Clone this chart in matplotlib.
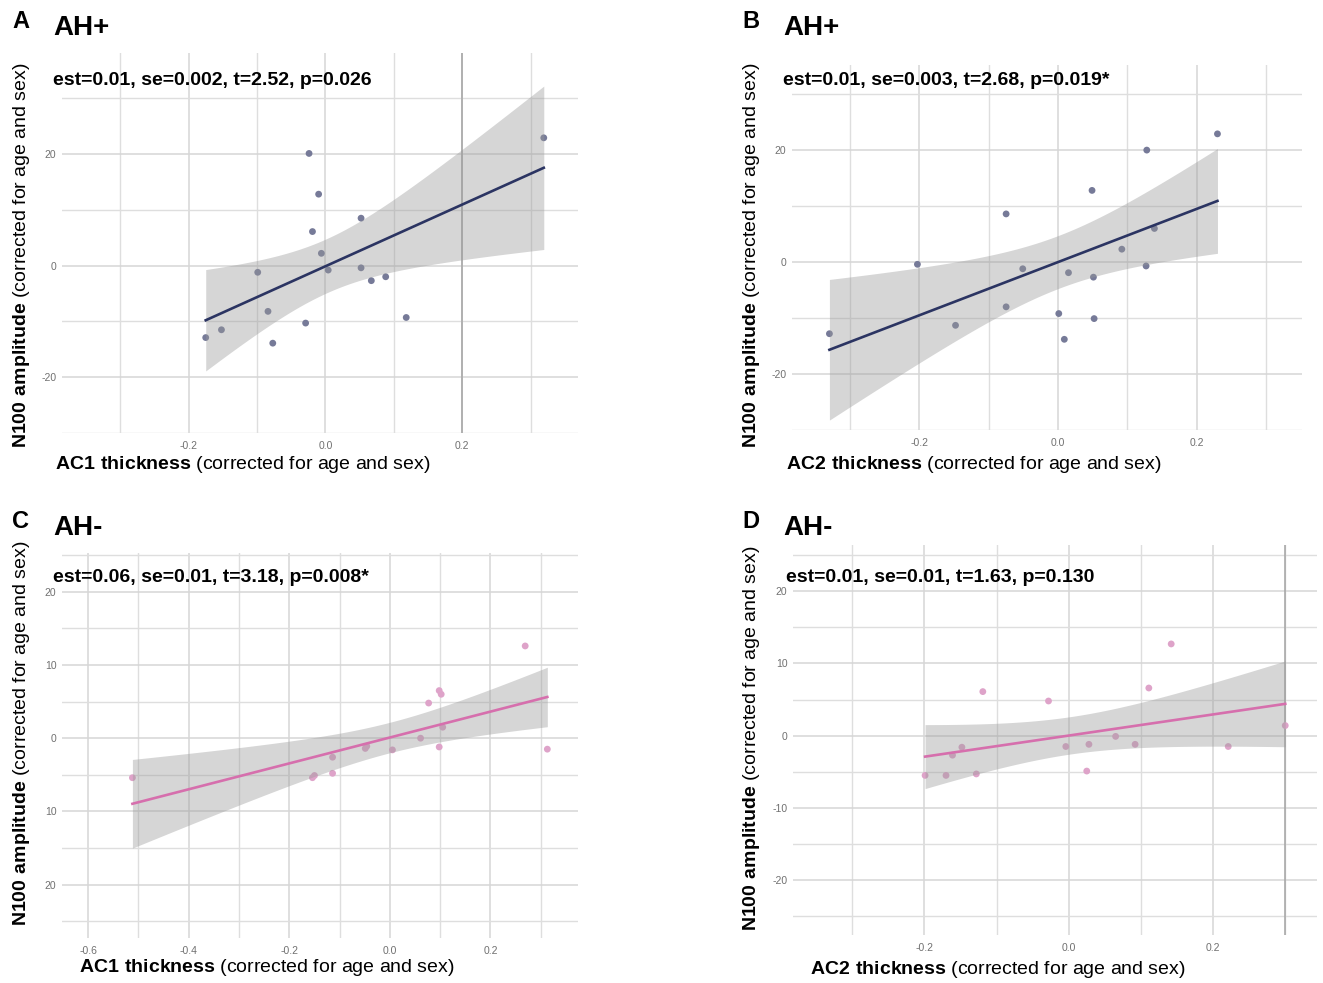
import numpy as np
import matplotlib
matplotlib.use("Agg")
import matplotlib.pyplot as plt

plt.rcParams['font.family'] = ['Liberation Sans', 'DejaVu Sans']
plt.rcParams['mathtext.fontset'] = 'custom'
plt.rcParams['mathtext.rm'] = 'Liberation Sans'
plt.rcParams['mathtext.bf'] = 'Liberation Sans:bold'

W, H = 1323, 983

# panel A: AH+, AC1
a_x = [-0.175, -0.152, -0.099, -0.084, -0.077, -0.029, -0.024, -0.010, -0.019, -0.006,
       0.004, 0.052, 0.052, 0.067, 0.088, 0.118, 0.319]
a_y = [-12.9, -11.5, -1.2, -8.2, -13.9, -10.3, 20.1, 12.8, 6.1, 2.2,
       -0.8, 8.5, -0.4, -2.7, -2.0, -9.3, 22.9]
# panel B: AH+, AC2
b_x = [-0.330, -0.203, -0.148, -0.075, -0.075, -0.051, 0.001, 0.009, 0.015, 0.049,
       0.051, 0.052, 0.092, 0.128, 0.127, 0.139, 0.230]
b_y = [-12.8, -0.4, -11.3, 8.6, -8.0, -1.2, -9.2, -13.8, -1.9, 12.8,
       -2.7, -10.1, 2.3, 20.0, -0.7, 6.0, 22.9]
# panel C: AH-, AC1
c_x = [-0.512, -0.154, -0.150, -0.114, -0.114, -0.049, -0.046, 0.005, 0.061, 0.077,
       0.098, 0.102, 0.098, 0.105, 0.269, 0.313]
c_y = [-5.4, -5.4, -5.1, -2.6, -4.8, -1.4, -1.1, -1.6, 0.0, 4.8,
       6.5, 6.0, -1.2, 1.5, 12.6, -1.5]
# panel D: AH-, AC2
d_x = [-0.199, -0.170, -0.161, -0.148, -0.128, -0.119, -0.028, -0.004, 0.025, 0.028,
       0.065, 0.092, 0.111, 0.142, 0.221, 0.300]
d_y = [-5.5, -5.5, -2.7, -1.6, -5.3, 6.1, 4.8, -1.5, -4.9, -1.2,
       -0.1, -1.2, 6.6, 12.7, -1.5, 1.4]

stats = ["est=0.01, se=0.002, t=2.52, p=0.026",
         "est=0.01, se=0.003, t=2.68, p=0.019*",
         "est=0.06, se=0.01, t=3.18, p=0.008*",
         "est=0.01, se=0.01, t=1.63, p=0.130"]
letters = ["A", "B", "C", "D"]
groups = ["AH+", "AH+", "AH-", "AH-"]
x_names = ["AC1", "AC2", "AC1", "AC2"]

# t quantiles (0.975) by degrees of freedom
t_crit = {14: 2.145, 15: 2.131}

navy = "#2b3462"
slate = "#767a98"
pink = "#d66fad"
pink_pt = "#dea3c9"

# pixel layout of each panel
panels = [
    dict(x=a_x, y=a_y, box=(62, 53, 578, 433), xlim=(-0.385, 0.369), ylim=(-28.0, 38.1),
         xmaj=[-0.2, 0.0, 0.2], xmin=[-0.3, -0.1, 0.1, 0.3],
         ymaj=[-20, 0, 20], ymin=[-30, -10, 10, 30], ylab=None,
         pt=slate, ln=navy, dark=0.2, stat_y=80, ylab_y=255, xlab_x=55, xlab_y=465),
    dict(x=b_x, y=b_y, box=(792, 65, 1302, 430), xlim=(-0.384, 0.352), ylim=(-27.7, 35.2),
         xmaj=[-0.2, 0.0, 0.2], xmin=[-0.3, -0.1, 0.1, 0.3],
         ymaj=[-20, 0, 20], ymin=[-30, -10, 10, 30], ylab=None,
         pt=slate, ln=navy, dark=None, stat_y=80, ylab_y=255, xlab_x=786, xlab_y=465),
    dict(x=c_x, y=c_y, box=(62, 553, 578, 938), xlim=(-0.652, 0.374), ylim=(-27.3, 25.3),
         xmaj=[-0.6, -0.4, -0.2, 0.0, 0.2], xmin=[-0.5, -0.3, -0.1, 0.1, 0.3],
         ymaj=[-20, -10, 0, 10, 20], ymin=[-25, -15, -5, 5, 15, 25],
         ylab=["20", "10", "0", "10", "20"],
         pt=pink_pt, ln=pink, dark=None, stat_y=578, ylab_y=733, xlab_x=79, xlab_y=968),
    dict(x=d_x, y=d_y, box=(793, 545, 1317, 935), xlim=(-0.382, 0.344), ylim=(-27.6, 26.4),
         xmaj=[-0.2, 0.0, 0.2], xmin=[-0.3, -0.1, 0.1, 0.3],
         ymaj=[-20, -10, 0, 10, 20], ymin=[-25, -15, -5, 5, 15, 25], ylab=None,
         pt=pink_pt, ln=pink, dark=0.3, stat_y=578, ylab_y=738, xlab_x=810, xlab_y=969),
]

fig = plt.figure(figsize=(W / 100, H / 100), dpi=100)


def fx(px):
    return px / W


def fy(py):
    return 1 - py / H


for i, p in enumerate(panels):
    x0, y0, x1, y1 = p['box']
    ax = fig.add_axes([fx(x0), fy(y1), (x1 - x0) / W, (y1 - y0) / H])
    x = np.array(p['x'])
    y = np.array(p['y'])

    # linear fit with 95% confidence band, like geom_smooth(method="lm")
    n = len(x)
    slope, icpt = np.polyfit(x, y, 1)
    resid = y - (icpt + slope * x)
    s = np.sqrt(np.sum(resid ** 2) / (n - 2))
    xs = np.linspace(x.min(), x.max(), 80)
    fit = icpt + slope * xs
    se = s * np.sqrt(1 / n + (xs - x.mean()) ** 2 / np.sum((x - x.mean()) ** 2))
    tq = t_crit[n - 2]

    ax.scatter(x, y, s=24, color=p['pt'], edgecolors='none', zorder=2)
    ax.fill_between(xs, fit - tq * se, fit + tq * se, color='#999999', alpha=0.4,
                    linewidth=0, zorder=3)
    ax.plot(xs, fit, color=p['ln'], lw=1.9, zorder=4)

    ax.set_xlim(p['xlim'])
    ax.set_ylim(p['ylim'])
    ax.set_xticks(p['xmaj'])
    ax.set_xticks(p['xmin'], minor=True)
    ax.set_yticks(p['ymaj'])
    ax.set_yticks(p['ymin'], minor=True)
    ax.set_xticklabels([f"{v:.1f}" for v in p['xmaj']])
    if p['ylab'] is not None:
        ax.set_yticklabels(p['ylab'])
    else:
        ax.set_yticklabels([f"{v:d}" for v in p['ymaj']])
    ax.grid(which='major', color='#d6d6d6', lw=1.1, zorder=0)
    ax.grid(which='minor', color='#dedede', lw=1.0, zorder=0)
    if p['dark'] is not None:
        ax.axvline(p['dark'], color='#a4a4a4', lw=1.1, zorder=1)
    for sp in ax.spines.values():
        sp.set_visible(False)
    ax.tick_params(which='both', length=0, labelsize=7.5, labelcolor='#707070')
    ax.tick_params(axis='x', pad=6)
    ax.tick_params(axis='y', pad=4)
    ax.set_axisbelow(True)

    # texts around the panel
    left = 0 if i % 2 == 0 else 730
    top = 0 if i < 2 else 500
    fig.text(fx(left + 12), fy(top + 21), letters[i], fontsize=17, fontweight='bold',
             va='center', ha='left')
    fig.text(fx(left + 53), fy(top + 28), groups[i], fontsize=20, fontweight='bold',
             va='center', ha='left')
    fig.text(fx(x0 - 9 if i != 3 else x0 - 7), fy(p['stat_y']), stats[i], fontsize=14,
             fontweight='bold', va='center', ha='left')
    fig.text(fx(left + 22), fy(p['ylab_y']),
             r'$\mathbf{N100\ amplitude}$ (corrected for age and sex)',
             fontsize=14, rotation=90, va='center', ha='center')
    fig.text(fx(p['xlab_x']), fy(p['xlab_y']),
             r'$\mathbf{' + x_names[i] + r'\ thickness}$ (corrected for age and sex)',
             fontsize=14, va='center', ha='left')

fig.savefig("out.png", dpi=100)
